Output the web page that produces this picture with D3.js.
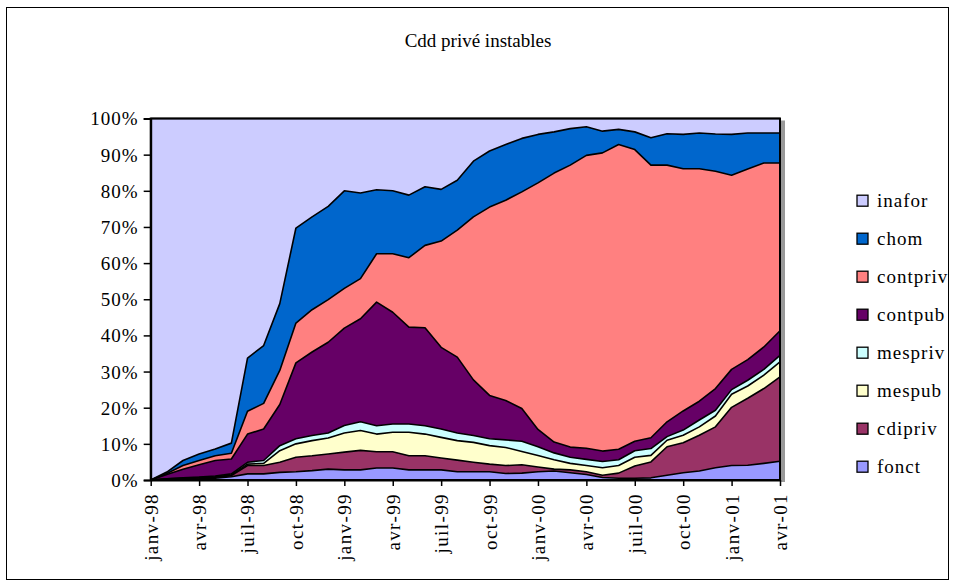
<!DOCTYPE html>
<html>
<head>
<meta charset="utf-8">
<script src="https://cdn.jsdelivr.net/npm/d3@7"></script>
<style>
  body { margin: 0; background: #fff; }
  text { font-family: "Liberation Serif", "Times New Roman", serif; fill: #000; }
</style>
</head>
<body>
<div id="chart"></div>
<script>
// categories: one per month, janv-98 .. avr-01
const months = [
  "janv-98","févr-98","mars-98","avr-98","mai-98","juin-98","juil-98","août-98","sept-98","oct-98","nov-98","déc-98",
  "janv-99","févr-99","mars-99","avr-99","mai-99","juin-99","juil-99","août-99","sept-99","oct-99","nov-99","déc-99",
  "janv-00","févr-00","mars-00","avr-00","mai-00","juin-00","juil-00","août-00","sept-00","oct-00","nov-00","déc-00",
  "janv-01","févr-01","mars-01","avr-01"
];
const tickLabels = months.filter((m, i) => i % 3 === 0);
const yTicks = [0, 0.1, 0.2, 0.3, 0.4, 0.5, 0.6, 0.7, 0.8, 0.9, 1];

// series values (%), bottom to top
const fonct    = [0,0.1,0.2,0.3,0.5,0.9,1.7,1.7,2.1,2.3,2.6,3.0,2.8,2.8,3.3,3.3,2.8,2.8,2.8,2.3,2.3,2.3,1.8,1.9,2.3,2.5,2.0,1.5,0.7,0.5,0.5,0.6,1.3,2.0,2.5,3.4,4.0,4.1,4.6,5.2];
const cdipriv  = [0,0.1,0.2,0.3,0.3,0.3,2.3,2.3,2.8,4.0,4.1,4.2,4.9,5.4,4.5,4.5,3.9,3.9,3.3,3.2,2.6,2.1,2.2,2.3,1.3,0.5,0.8,0.8,0.6,1.4,3.4,4.4,7.9,8.3,9.9,11.3,16.1,18.5,20.7,23.3];
const mespub   = [0,0.1,0.1,0.1,0.1,0.2,0.4,0.6,3.2,3.7,4.2,4.4,5.3,5.5,4.9,5.4,6.5,6.0,5.7,5.4,5.5,5.1,5.0,3.7,3.2,2.6,1.8,1.7,2.1,2.1,2.4,1.8,1.8,2.1,2.3,3.0,3.6,3.4,3.7,4.2];
const mespriv  = [0,0,0.1,0.1,0.2,0.3,0.5,0.8,1.4,1.4,1.4,1.4,2.1,2.4,2.3,2.3,2.3,2.3,2.3,2.1,1.9,1.9,2.1,2.8,2.4,1.9,1.7,1.7,1.7,1.6,1.8,1.9,1.0,1.4,1.9,1.6,1.3,1.6,1.6,1.8];
const contpub  = [0,1.2,2.4,3.4,4.3,4.1,7.8,8.7,11.4,21.0,23.1,25.1,26.9,28.5,34.2,30.9,26.8,27.1,22.6,21.0,15.4,12.0,10.9,9.1,4.8,3.0,2.8,3.1,2.9,2.9,2.6,3.0,4.1,5.3,5.2,6.0,5.6,5.7,6.2,6.8];
const contpriv = [0,0.3,1.0,1.2,1.3,1.6,6.3,7.1,9.4,11.0,11.7,11.8,11.0,11.1,13.4,16.2,19.2,22.8,29.4,35.1,45.1,52.1,55.4,59.9,68.2,74.4,78.0,81.0,82.5,84.3,80.7,75.4,71.0,67.0,64.3,60.1,53.7,52.7,50.9,46.4];
const chom     = [0,0.4,1.4,1.8,1.9,2.8,14.7,16.0,18.5,26.3,25.7,25.8,27.0,23.7,17.7,17.4,17.3,16.2,14.3,13.8,15.4,15.5,15.4,14.8,13.4,11.4,10.1,7.9,6.0,4.2,4.9,7.6,8.7,9.5,9.9,10.3,11.3,10.0,8.3,8.3];
const inafor   = [100,97.8,94.6,92.8,91.4,89.8,66.3,62.8,51.2,30.3,27.2,24.3,20.0,20.6,19.7,20.0,21.2,18.9,19.6,17.1,11.8,9.0,7.2,5.5,4.4,3.7,2.8,2.3,3.5,3.0,3.7,5.3,4.2,4.4,4.0,4.3,4.4,4.0,4.0,4.0];

const seriesNames = ["fonct","cdipriv","mespub","mespriv","contpub","contpriv","chom","inafor"];
const seriesValues = [fonct, cdipriv, mespub, mespriv, contpub, contpriv, chom, inafor];
const colors = {
  fonct: "#9999FF", cdipriv: "#993366", mespub: "#FFFFCC", mespriv: "#CCFFFF",
  contpub: "#660066", contpriv: "#FF8080", chom: "#0066CC", inafor: "#CCCCFF"
};

const W = 958, H = 584;
const plot = {left: 150.7, right: 780, top: 118.5, bottom: 480};

const svg = d3.select("#chart").append("svg")
    .attr("width", W)
    .attr("height", H);

// outer chart frame
svg.append("rect")
    .attr("x", 6.5).attr("y", 7.5)
    .attr("width", 942).attr("height", 572)
    .attr("fill", "#fff")
    .attr("stroke", "#000")
    .attr("stroke-width", 1);

svg.append("text")
    .attr("x", 478).attr("y", 47)
    .attr("text-anchor", "middle")
    .style("font-size", "19px")
    .text("Cdd privé instables");

const table = months.map((m, i) => {
  const row = {month: m};
  seriesNames.forEach((s, k) => row[s] = seriesValues[k][i]);
  return row;
});

const stack = d3.stack()
    .keys(seriesNames)
    .offset(d3.stackOffsetExpand);
const layers = stack(table);

const x = d3.scalePoint()
    .domain(months)
    .range([plot.left, plot.right]);

const y = d3.scaleLinear()
    .domain([0, 1])
    .range([plot.bottom, plot.top]);

const area = d3.area()
    .x(d => x(d.data.month))
    .y0(d => y(d[0]))
    .y1(d => y(d[1]));

const line = d3.line()
    .x(d => x(d.data.month))
    .y(d => y(d[1]));

// shadow on the right of the plot area
svg.append("rect")
    .attr("x", plot.right + 1).attr("y", plot.top + 2)
    .attr("width", 4).attr("height", plot.bottom - plot.top)
    .attr("fill", "#999");

const g = svg.append("g");

g.selectAll("path.area")
  .data(layers)
  .join("path")
    .attr("class", "area")
    .attr("fill", d => colors[d.key])
    .attr("d", area);

g.selectAll("path.edge")
  .data(layers)
  .join("path")
    .attr("class", "edge")
    .attr("fill", "none")
    .attr("stroke", "#000")
    .attr("stroke-width", 1.6)
    .attr("stroke-linejoin", "round")
    .attr("d", line);

// plot border
svg.append("rect")
    .attr("x", plot.left).attr("y", plot.top)
    .attr("width", plot.right - plot.left).attr("height", plot.bottom - plot.top)
    .attr("fill", "none")
    .attr("stroke", "#000")
    .attr("stroke-width", 2);

// y axis
const yAxis = svg.append("g")
    .attr("transform", "translate(" + plot.left + ",0)")
    .call(d3.axisLeft(y).tickValues(yTicks).tickFormat(d3.format(".0%")).tickSize(7).tickPadding(5));
yAxis.select(".domain").attr("stroke-width", 2);
yAxis.selectAll(".tick line").attr("stroke-width", 1.5);
yAxis.selectAll("text")
    .style("font-family", "'Liberation Serif', serif")
    .style("font-size", "19px")
    .style("letter-spacing", "1px")
    .attr("dy", "0.34em");

// x axis
const xAxis = svg.append("g")
    .attr("transform", "translate(0," + plot.bottom + ")")
    .call(d3.axisBottom(x).tickValues(tickLabels).tickSize(6).tickSizeOuter(0));
xAxis.select(".domain").attr("stroke-width", 2);
xAxis.selectAll(".tick line").attr("stroke-width", 1.5);
xAxis.selectAll("text")
    .style("font-family", "'Liberation Serif', serif")
    .style("font-size", "19px")
    .style("letter-spacing", "1.4px")
    .attr("text-anchor", "end")
    .attr("transform", "translate(0,13) rotate(-90)")
    .attr("x", 0)
    .attr("y", 0)
    .attr("dy", "0.34em");

// legend, top entry = top layer
const legendNames = seriesNames.slice().reverse();
const legend = svg.append("g").selectAll("g")
  .data(legendNames)
  .join("g")
    .attr("transform", (d, i) => "translate(857," + (200.7 + i * 38.0) + ")");

legend.append("rect")
    .attr("x", 0).attr("y", -5.5)
    .attr("width", 11).attr("height", 11)
    .attr("fill", d => colors[d])
    .attr("stroke", "#000")
    .attr("stroke-width", 1.3);

legend.append("text")
    .attr("x", 20).attr("y", 0)
    .attr("dy", "0.34em")
    .style("font-size", "19px")
    .style("letter-spacing", "1px")
    .text(d => d);
</script>
</body>
</html>
